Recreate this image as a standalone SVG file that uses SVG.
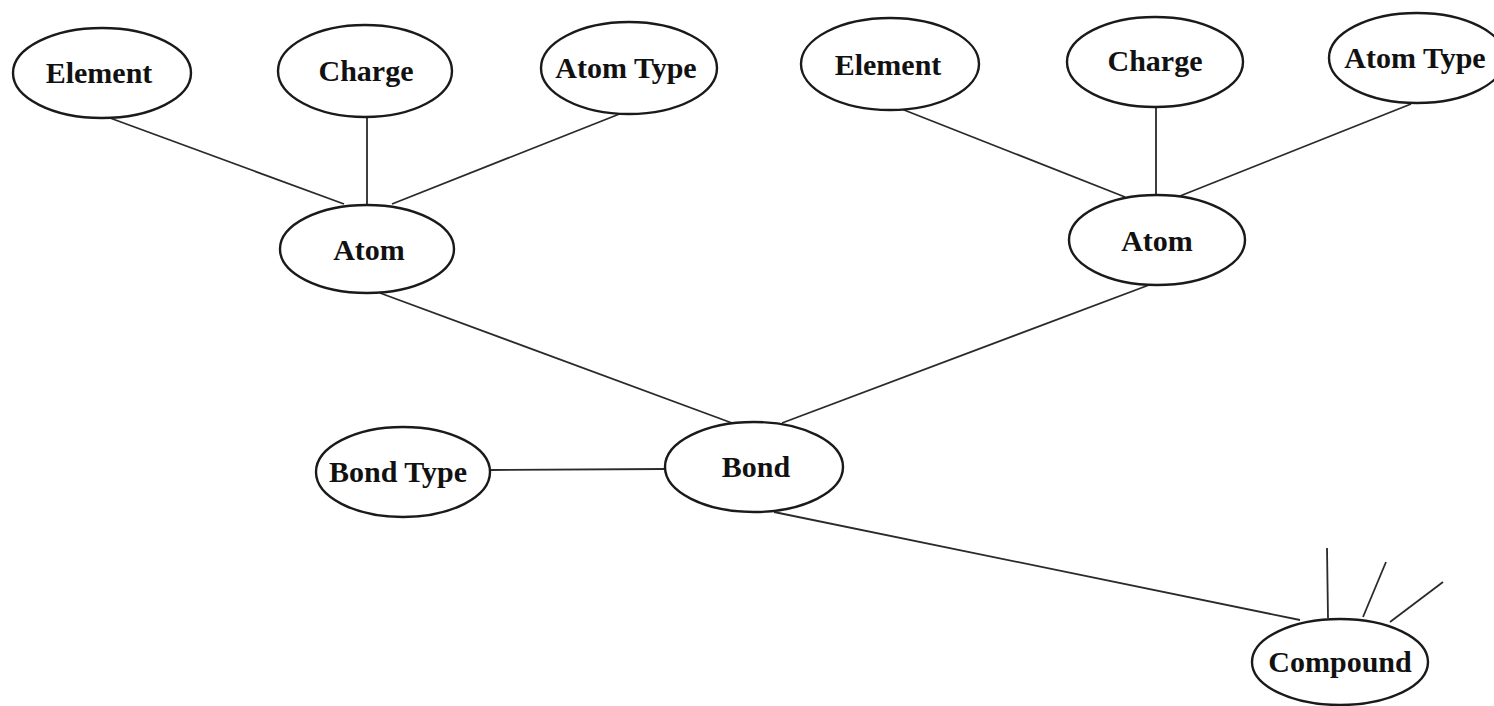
<svg xmlns="http://www.w3.org/2000/svg" width="1494" height="706" viewBox="0 0 1494 706">
<style>
.n ellipse{fill:#fff;stroke:#1a1a1a;stroke-width:2.4}
.n text{font-family:"Liberation Serif","Times New Roman",serif;font-weight:bold;font-size:30px;text-anchor:middle;fill:#111}
#connectors line{stroke:#2a2a2a;stroke-width:1.8;fill:none}
</style>
<rect width="1494" height="706" fill="#fff"/>
<g id="connectors">
<line x1="110" y1="118" x2="344" y2="204"/>
<line x1="367" y1="117" x2="367" y2="205"/>
<line x1="622" y1="113" x2="392" y2="204"/>
<line x1="899" y1="108" x2="1125" y2="197"/>
<line x1="1156" y1="107" x2="1156" y2="195"/>
<line x1="1411" y1="104" x2="1180" y2="196"/>
<line x1="380" y1="293" x2="732" y2="423"/>
<line x1="1149" y1="285" x2="782" y2="423"/>
<line x1="491" y1="470" x2="665" y2="469"/>
<line x1="774" y1="512" x2="1300" y2="620"/>
<line x1="1328" y1="618" x2="1327" y2="548"/>
<line x1="1363" y1="617" x2="1386" y2="562"/>
<line x1="1390" y1="622" x2="1443" y2="582"/>
</g>
<g id="element-left" class="n"><ellipse cx="102" cy="73" rx="89" ry="45"/><text x="99" y="83">Element</text></g>
<g id="charge-left" class="n"><ellipse cx="365" cy="71" rx="87" ry="46"/><text x="366" y="81">Charge</text></g>
<g id="atomtype-left" class="n"><ellipse cx="629" cy="68" rx="88" ry="46"/><text x="626" y="78">Atom Type</text></g>
<g id="atom-left" class="n"><ellipse cx="367" cy="249" rx="87" ry="44"/><text x="369" y="260">Atom</text></g>
<g id="element-right" class="n"><ellipse cx="890" cy="64" rx="89" ry="46"/><text x="888" y="75">Element</text></g>
<g id="charge-right" class="n"><ellipse cx="1155" cy="62" rx="88" ry="45"/><text x="1155" y="71">Charge</text></g>
<g id="atomtype-right" class="n"><ellipse cx="1417" cy="58" rx="88" ry="45"/><text x="1415" y="68">Atom Type</text></g>
<g id="atom-right" class="n"><ellipse cx="1157" cy="240" rx="88" ry="45"/><text x="1157" y="251">Atom</text></g>
<g id="bondtype" class="n"><ellipse cx="403" cy="472" rx="87" ry="45"/><text x="398" y="482">Bond Type</text></g>
<g id="bond" class="n"><ellipse cx="754" cy="467" rx="89" ry="45"/><text x="756" y="477">Bond</text></g>
<g id="compound" class="n"><ellipse cx="1340" cy="662" rx="88" ry="43"/><text x="1340" y="672">Compound</text></g>
</svg>
